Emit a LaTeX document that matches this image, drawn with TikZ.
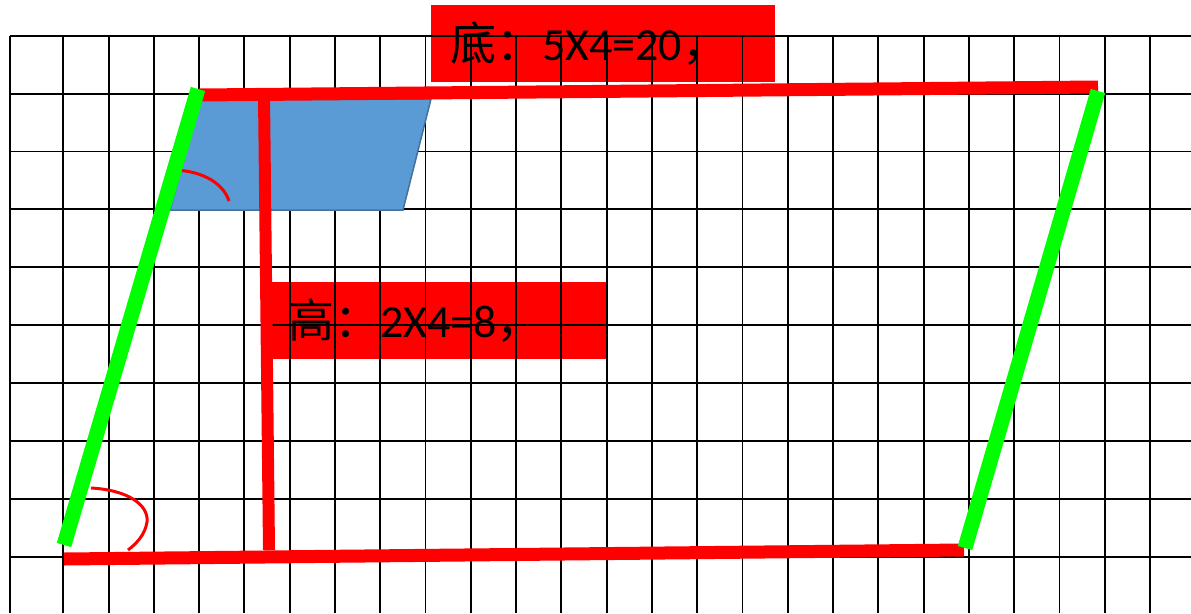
\documentclass[tikz,border=0pt]{standalone}
\usepackage{fontspec}
\setmainfont{Carlito}
\newfontfamily\cjk{Noto Sans CJK SC}
\usetikzlibrary{positioning}
\definecolor{gridblue}{HTML}{5B9BD5}
\definecolor{gridblueedge}{HTML}{41719C}
\tikzset{
  labelbox/.style={fill=red,anchor=north west,inner ysep=0pt,minimum height=77pt,
    font=\fontsize{46}{46}\selectfont,align=left},
  gridline/.style={line width=1.9pt,black},
  redbar/.style={line width=13pt,red},
  greenbar/.style={line width=15pt,green},
  anglemark/.style={line width=3pt,red}
}

\begin{document}
\begin{tikzpicture}[x=1pt,y=-1pt]
      \useasboundingbox (0,0) rectangle (1191,613);

      \node[labelbox,text width=306pt,inner xsep=19pt] (base) at (431,5) {{\cjk 底：}5X4=20{\cjk ，}};
      \node[labelbox,text width=304pt,inner xsep=16pt] (height) at (272,282) {{\cjk 高：}2X4=8{\cjk ，}};

      % grid
      \foreach \k in {0,...,9}
        \draw[gridline] (10,35.7+57.9*\k) -- (1191,35.7+57.9*\k);
      \draw[gridline] (10,35.7) -- (10,613);
      \foreach \k in {0,...,24}
        \draw[gridline] (63.3+45.28*\k,35.7) -- (63.3+45.28*\k,613);

      \coordinate (TL) at (199,95);
      \coordinate (TR) at (1098,87);
      \coordinate (BL) at (64,559);
      \coordinate (BR) at (964,550);
      \coordinate (GTL) at (198,89);
      \coordinate (GBL) at (64,545);
      \coordinate (GTR) at (1098,91);
      \coordinate (GBR) at (965,548);
      \coordinate (HT) at (264,95);
      \coordinate (HB) at (269,550);

      \filldraw[fill=gridblue,draw=gridblueedge,line width=1.5pt] (200,99) -- (431,99) -- (403,210) -- (170,210) -- cycle;

      \draw[redbar] (TL) -- (TR);
      \draw[redbar] (BL) -- (BR);
      \draw[line width=12pt,red] (HT) -- (HB);

      \draw[anglemark] (174,170) .. controls (205,171) and (224,185) .. (229,201);
      \draw[anglemark] (91,488) .. controls (128,490) and (149,505) .. (147,522)
        .. controls (145,535) and (136,544) .. (128,550);

      \draw[greenbar] (GTL) -- (GBL);
      \draw[greenbar] (GTR) -- (GBR);
\end{tikzpicture}
\end{document}
